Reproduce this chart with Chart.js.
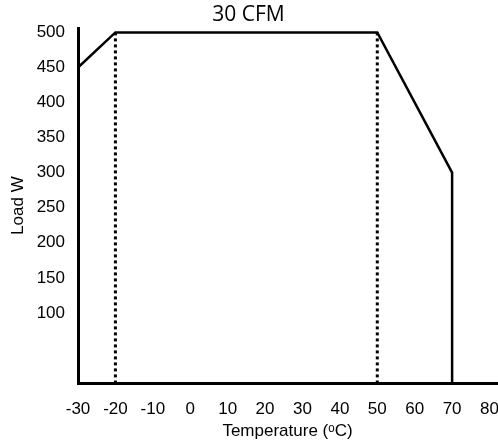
<!DOCTYPE html>
<html>
<head>
<meta charset="utf-8">
<script src="https://cdn.jsdelivr.net/npm/chart.js@4/dist/chart.umd.min.js"></script>
<style>
  html, body { margin: 0; padding: 0; background: #fff; }
  #chart { display: block; }
</style>
</head>
<body>
<canvas id="chart" width="498" height="448"></canvas>
<script>
// ── 30 CFM derating curve ──
const tempC = [-30, -20, 50, 70, 70];
const loadW = [450, 500, 500, 300, 0];

// dotted markers at the full-load limits
const limitTemps = [-20, 50];
const limitLoad = 500;

const xTicks = [-30, -20, -10, 0, 10, 20, 30, 40, 50, 60, 70, 80];
const yTicks = [100, 150, 200, 250, 300, 350, 400, 450, 500];

const FONT = "'Liberation Sans', Arial, sans-serif";

const curve = tempC.map((t, i) => ({ x: t, y: loadW[i] }));

const limitSets = limitTemps.map(t => ({
  data: [{ x: t, y: limitLoad }, { x: t, y: 0 }],
  borderColor: '#000',
  borderWidth: 3,
  borderDash: [3, 3],
  borderCapStyle: 'butt',
  pointRadius: 0,
  fill: false
}));

new Chart(document.getElementById('chart'), {
  type: 'line',
  data: {
    datasets: [
      {
        label: '30 CFM',
        data: curve,
        borderColor: '#000',
        borderWidth: 2.5,
        pointRadius: 0,
        tension: 0,
        fill: false
      },
      ...limitSets
    ]
  },
  options: {
    responsive: false,
    animation: false,
    devicePixelRatio: 1,
    layout: { padding: { left: 0, right: 1, top: 0, bottom: 0 } },
    plugins: {
      legend: { display: false },
      tooltip: { enabled: false },
      title: {
        display: true,
        text: '30 CFM',
        color: '#000',
        font: { family: "'Open Sans', sans-serif", size: 21, weight: 'normal' },
        padding: { top: 2, bottom: 1 }
      }
    },
    scales: {
      x: {
        type: 'linear',
        min: -30,
        max: 82,
        grid: { display: false },
        border: { display: true, color: '#000', width: 3 },
        afterBuildTicks: s => { s.ticks = xTicks.map(v => ({ value: v })); },
        afterFit: s => { s.height = 65; s.paddingLeft = 0; s.paddingRight = 0; },
        ticks: { color: '#000', font: { family: FONT, size: 17 }, padding: 8, maxRotation: 0 },
        title: {
          display: true,
          text: 'Temperature (ᵒC)',
          color: '#000',
          font: { family: FONT, size: 17 },
          padding: { top: 0, bottom: 6 }
        }
      },
      y: {
        type: 'linear',
        min: 0,
        max: 506,
        grid: { display: false },
        border: { display: true, color: '#000', width: 3 },
        afterBuildTicks: s => { s.ticks = yTicks.map(v => ({ value: v })); },
        afterFit: s => { s.width = 78; s.paddingTop = 0; s.paddingBottom = 0; },
        ticks: { color: '#000', font: { family: FONT, size: 17 }, padding: 5 },
        title: {
          display: true,
          text: 'Load W',
          color: '#000',
          font: { family: FONT, size: 17 },
          padding: { top: 8, bottom: 0 }
        }
      }
    }
  }
});
</script>
</body>
</html>
